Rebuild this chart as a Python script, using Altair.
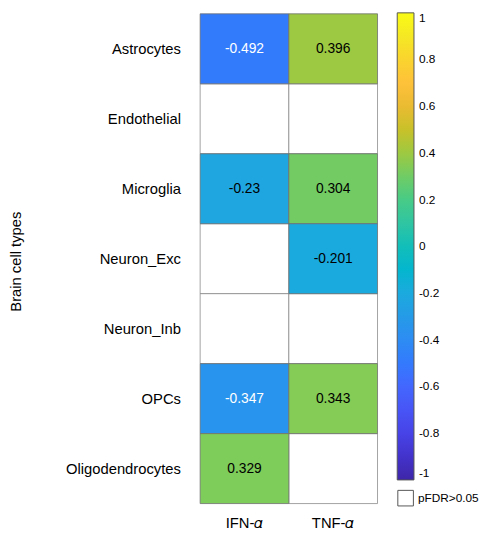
import altair as alt
import pandas as pd

# ---- data ----
cell_types = ["Astrocytes", "Endothelial", "Microglia", "Neuron_Exc",
              "Neuron_Inb", "OPCs", "Oligodendrocytes"]
cytokines = ["IFN-\U0001D6FC", "TNF-\U0001D6FC"]
ifn_values = [-0.492, None, -0.23, None, None, -0.347, 0.329]
tnf_values = [0.396, None, 0.304, -0.201, None, 0.343, None]
colorbar_ticks = [-1, -0.8, -0.6, -0.4, -0.2, 0, 0.2, 0.4, 0.6, 0.8, 1]
nonsig_label = "pFDR>0.05"

# MATLAB parula colormap (64 stops)
PARULA = [
    "#3e26a8", "#402ab4", "#422ebf", "#4332cb", "#4537d5", "#463bde", "#4741e5", "#4747eb",
    "#484df0", "#4852f4", "#4758f8", "#465dfb", "#4563fd", "#4269fe", "#3e6fff", "#3875fe",
    "#327cfc", "#2f81f9", "#2d87f7", "#2d8cf3", "#2b91ef", "#2796eb", "#259be7", "#23a0e5",
    "#20a5e2", "#1ca9df", "#18addb", "#12b1d6", "#08b5d0", "#01b8ca", "#02bac3", "#0bbdbc",
    "#19bfb5", "#24c1ae", "#2cc4a7", "#31c69f", "#37c897", "#3fca8e", "#4acb84", "#57cc7a",
    "#64cd6f", "#71cc64", "#80cc59", "#8fcb4e", "#9dc942", "#abc739", "#b9c430", "#c5c22a",
    "#d1bf27", "#dcbd29", "#e6bb2d", "#efba36", "#f8ba3d", "#febe3c", "#fec338", "#fec934",
    "#fccf30", "#f9d62d", "#f7dc2a", "#f5e227", "#f5e924", "#f5ef20", "#f7f51b", "#f9fb15",
]
stops = [-1 + 2 * i / (len(PARULA) - 1) for i in range(len(PARULA))]

rows = []
for ct, iv, tv in zip(cell_types, ifn_values, tnf_values):
    for cy, v in zip(cytokines, [iv, tv]):
        rows.append({
            "cell": ct,
            "cytokine": cy,
            "value": v,
            "status": nonsig_label if v is None else "sig",
        })
df = pd.DataFrame(rows)

x_enc = alt.X(
    "cytokine:N", sort=cytokines,
    scale=alt.Scale(paddingInner=0, paddingOuter=0),
    axis=alt.Axis(orient="bottom", title=None, labelAngle=0, labelFontSize=15,
                  labelPadding=12, ticks=False, tickSize=0, domain=False,
                  labelColor="black"),
)
y_enc = alt.Y(
    "cell:N", sort=cell_types,
    scale=alt.Scale(paddingInner=0, paddingOuter=0),
    axis=alt.Axis(title="Brain cell types", labelFontSize=15, labelPadding=20,
                  ticks=False, tickSize=0, domain=False, labelColor="black",
                  titleFontSize=15, titleFontWeight="normal", titleColor="black",
                  titleX=-179, titleY=251),
)

base = alt.Chart(df).encode(x=x_enc, y=y_enc)

nonsig = base.transform_filter("!isValid(datum.value)").mark_rect(
    stroke="#8a8a8a", strokeWidth=0.8
).encode(
    fill=alt.Fill(
        "status:N",
        scale=alt.Scale(domain=[nonsig_label], range=["white"]),
        legend=alt.Legend(title=None, orient="none", legendX=200, legendY=483,
                          symbolType="square", symbolSize=250,
                          symbolStrokeColor="#555555", symbolStrokeWidth=1,
                          labelFontSize=12, labelOffset=4, labelColor="black"),
    )
)

sig = base.transform_filter("isValid(datum.value)").mark_rect(
    stroke="#6e6e6e", strokeWidth=0.8
).encode(
    color=alt.Color(
        "value:Q",
        scale=alt.Scale(domain=stops, range=PARULA),
        legend=alt.Legend(title=None, orient="none", legendX=200, legendY=-1,
                          direction="vertical", gradientLength=474,
                          gradientThickness=17, values=colorbar_ticks,
                          labelExpr="'' + datum.value", labelFontSize=12,
                          labelOffset=5, labelColor="black",
                          gradientStrokeColor="#555555", gradientStrokeWidth=1),
    )
)

text = base.transform_filter("isValid(datum.value)").transform_calculate(
    label="'' + datum.value"
).mark_text(fontSize=14).encode(
    text="label:N",
    color=alt.condition(alt.datum.value < -0.3, alt.value("white"), alt.value("black")),
)

chart = alt.layer(nonsig, sig, text).properties(
    width=180,
    height=497,
    autosize=alt.AutoSizeParams(type="none"),
    padding={"left": 195, "top": 2, "right": 104, "bottom": 30},
).configure(font="Liberation Sans").configure_view(stroke=None)

chart.save("out.html", embed_options={"renderer": "svg", "actions": False})
